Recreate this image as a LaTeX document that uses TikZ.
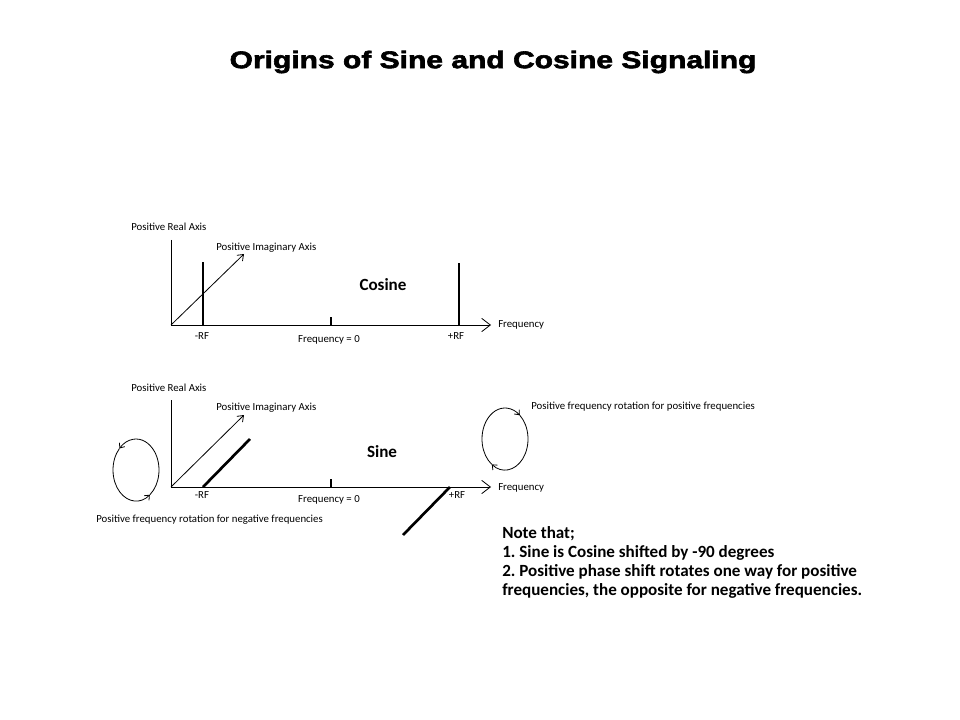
\documentclass[tikz,border=0pt]{standalone}
\usepackage{fontspec}
\setmainfont{Carlito}
\newfontfamily\titlefont[BoldFeatures={FakeBold=2.5,FakeStretch=1.25}]{Liberation Sans}
\usetikzlibrary{arrows.meta}
\usetikzlibrary{scopes}
\frenchspacing

\begin{document}
\begin{tikzpicture}
      [
      x=0.75pt, y=-0.75pt,
      every node/.style={font=\fontsize{8.1}{9.5}\selectfont, inner sep=0pt},
      axisline/.style={draw=black, line width=0.6pt},
      spike/.style={draw=black, line width=2pt},
      tick/.style={draw=black, line width=1.3pt},
      freqtip/.style={-{Straight Barb[length=6.5pt,width=10pt]}},
      imagtip/.style={-{Straight Barb[length=4pt,width=6pt]}},
      turn/.style={draw=black, line width=0.6pt, -{Straight Barb[length=3pt,width=5pt]}},
      panel/.style={font=\fontsize{12.8}{15}\selectfont\bfseries},
      ]
      \useasboundingbox (0,0) rectangle (960,720);
      \node (title) at (493,62) {\titlefont\bfseries\fontsize{18}{20}\selectfont Origins of Sine and Cosine Signaling};

      % Cosine: two real spikes at -RF and +RF
      \coordinate (co) at (171,325);
      \coordinate (cotop) at (171,240);
      \coordinate (coend) at (491,325);
      \coordinate (coim) at (244,254);
      {[axisline]
        \draw (cotop) -- (co);
        \draw[freqtip] (co) -- (coend);
        \draw[imagtip] (co) -- (coim);
      }
      \coordinate (cneg) at (203,325);
      \coordinate (cnegtop) at (203,262);
      \coordinate (cpos) at (459,325);
      \coordinate (cpostop) at (459,263);
      \coordinate (czero) at (331,325);
      \coordinate (czerotop) at (331,317);
      {[spike]
        \draw (cneg) -- (cnegtop);
        \draw (cpos) -- (cpostop);
      }
      \draw[tick] (czero) -- (czerotop);
      \node[anchor=west] (creal) at (131,227) {Positive Real Axis};
      \node[anchor=west] (cimag) at (216,248) {Positive Imaginary Axis};
      \node (cneglbl) at (202,336) {-RF};
      \node (cposlbl) at (456,336) {+RF};
      \node (czerolbl) at (329,340) {Frequency = 0};
      \node[anchor=west] (cfreq) at (498,325) {Frequency};
      \node[panel] (cosine) at (383,285) {Cosine};

      % Sine: imaginary spikes, opposite signs
      \coordinate (so) at (171,487);
      \coordinate (sotop) at (171,400);
      \coordinate (soend) at (491,487);
      \coordinate (soim) at (244,415);
      {[axisline]
        \draw (sotop) -- (so);
        \draw[freqtip] (so) -- (soend);
        \draw[imagtip] (so) -- (soim);
      }
      \coordinate (sneg) at (203,487);
      \coordinate (snegtip) at (250,439);
      \coordinate (spos) at (450,487);
      \coordinate (spostip) at (403,535);
      \coordinate (szero) at (331,487);
      \coordinate (szerotop) at (331,479);
      {[spike]
        \draw (sneg) -- (snegtip);
        \draw (spos) -- (spostip);
      }
      \draw[tick] (szero) -- (szerotop);
      \node[anchor=west] (sreal) at (131,388) {Positive Real Axis};
      \node[anchor=west] (simag) at (216,408) {Positive Imaginary Axis};
      \node (sneglbl) at (202,495) {-RF};
      \node (sposlbl) at (457,495) {+RF};
      \node (szerolbl) at (329,500) {Frequency = 0};
      \node[anchor=west] (sfreq) at (498,488) {Frequency};
      \node[panel] (sine) at (382,452) {Sine};

      % rotation senses
      \coordinate (lrot) at (136,470);
      \coordinate (rrot) at (505,439);
      {[turn]
        \draw ([shift={(53:23 and 31)}]lrot) arc[start angle=53, end angle=-136, x radius=23, y radius=31];
        \draw ([shift={(224:23 and 31)}]lrot) arc[start angle=224, end angle=53, x radius=23, y radius=31];
        \draw ([shift={(125:23 and 31)}]rrot) arc[start angle=125, end angle=310, x radius=23, y radius=31];
        \draw ([shift={(-50:23 and 31)}]rrot) arc[start angle=-50, end angle=125, x radius=23, y radius=31];
      }
      \node[anchor=west] (rposlbl) at (531,407) {Positive frequency rotation for positive frequencies};
      \node[anchor=west] (rneglbl) at (96,520) {Positive frequency rotation for negative frequencies};

      \node[anchor=north west, align=left, font=\fontsize{12.8}{14.25}\selectfont\bfseries] (note) at (502,526)
        {Note that;\\
         1. Sine is Cosine shifted by -90 degrees\\
         2. Positive phase shift rotates one way for positive\\
         frequencies, the opposite for negative frequencies.};
\end{tikzpicture}
\end{document}
